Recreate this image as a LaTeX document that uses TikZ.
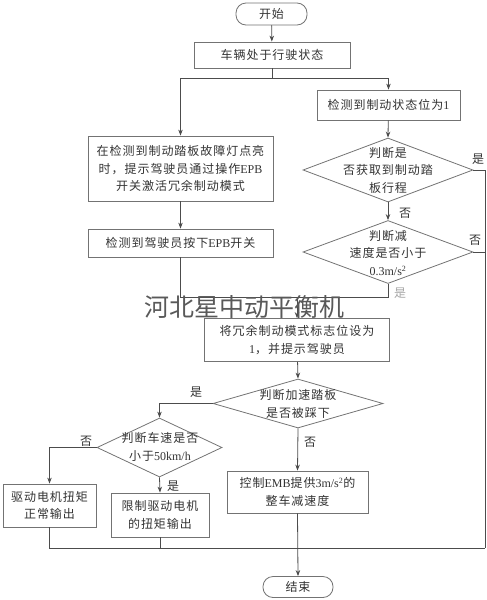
\documentclass[tikz,border=0pt]{standalone}
\usepackage{fontspec}
\usetikzlibrary{shapes.geometric,arrows.meta}
\newfontfamily\cjk{Noto Sans CJK SC}[LetterSpace=8]
\newfontfamily\wmfont{Noto Sans CJK SC}
\newfontfamily\latf{Liberation Serif}
\newcommand\la[1]{{\latf #1}}
\begin{document}
\begin{tikzpicture}[x=1pt,y=-1pt,
  font=\cjk\fontsize{12}{17.5}\selectfont,
  box/.style={draw=black!55, line width=0.8pt, fill=white, align=center, inner sep=0pt, text=black!80},
  term/.style={box, rounded corners=10pt},
  dia/.style={diamond, draw=black!55, line width=0.8pt, inner sep=0pt},
  dtxt/.style={align=center, inner sep=0pt, text=black!80},
  ln/.style={draw=black!70, line width=0.8pt},
  arr/.style={ln, -{Stealth[length=6pt,width=4.5pt]}},
  lab/.style={inner sep=0pt, text=black!80}]
\useasboundingbox (0,0) rectangle (487,600);
% terminals and boxes
\node[term, minimum width=71pt, minimum height=22pt] (start) at (271.5,14) {开始};
\node[box, minimum width=156pt, minimum height=26pt] (b1) at (272,55) {车辆处于行驶状态};
\node[box, minimum width=143pt, minimum height=30pt] (r1) at (388.5,105) {检测到制动状态位为\la{1}};
\node[box, minimum width=185pt, minimum height=65pt] (b2) at (180.5,168.5) {在检测到制动踏板故障灯点亮\\时，提示驾驶员通过操作\la{EPB}\\开关激活冗余制动模式};
\node[box, minimum width=185pt, minimum height=28pt] (b3) at (180.5,243) {检测到驾驶员按下\la{EPB}开关};
\node[dia, minimum width=170pt, minimum height=64pt] (d1) at (388,170) {};
\node[dtxt] (d1t) at (388,170) {判断是\\否获取到制动踏\\板行程};
\node[dia, minimum width=170pt, minimum height=63pt] (d2) at (388,252) {};
\node[dtxt] (d2t) at (388,253) {判断减\\速度是否小于\\\la{0.3m/s\textsuperscript{2}}};
\node[box, minimum width=185pt, minimum height=43pt] (b4) at (297,340) {将冗余制动模式标志位设为\\\la{1}，并提示驾驶员};
\node[dia, minimum width=170pt, minimum height=49pt] (d3) at (298,403.5) {};
\node[dtxt] (d3t) at (298,404) {判断加速踏板\\是否被踩下};
\node[dia, minimum width=125pt, minimum height=59pt] (d4) at (159.5,447.5) {};
\node[dtxt] (d4t) at (160,447) {判断车速是否\\小于\la{50km/h}};
\node[box, minimum width=93pt, minimum height=43pt] (b5) at (49.5,505.5) {驱动电机扭矩\\正常输出};
\node[box, minimum width=98pt, minimum height=44pt] (b6) at (160,515) {限制驱动电机\\的扭矩输出};
\node[box, minimum width=141pt, minimum height=42pt] (b7) at (297.5,492) {控制\la{EMB}提供\la{3m/s\textsuperscript{2}}的\\整车减速度};
\node[term, minimum width=70pt, minimum height=21pt] (end) at (298,587) {结束};
% junction coordinates
\coordinate (j1) at (297,297);
\coordinate (rr) at (485,548);
% connectors
\draw[arr] (start) -- (b1);
\draw[arr] (b1.south) -- ++(0,10) -| (b2.north);
\draw[arr] (b1.south) -- ++(0,10) -| (r1.north);
\draw[arr] (b2) -- (b3);
\draw[arr] (r1) -- (d1.north);
\draw[arr] (d1.south) -- (d2.north);
\draw[ln] (d1.east) -| (rr);
\draw[ln] (d2.east) -- (d2.east -| rr);
\draw[ln] (b3.south) |- (j1);
\draw[ln] (d2.south) |- (j1);
\draw[arr] (j1) -- (b4.north);
\draw[arr] (b4) -- (d3.north);
\draw[arr] (d3.west) -| (d4.north);
\draw[arr] (d3.south) -- (b7.north);
\draw[arr] (d4.west) -| (b5.north);
\draw[arr] (d4.south) -- (b6.north);
\draw[ln] (b5.south) |- (rr);
\draw[ln] (b6.south) -- (b6.south |- rr);
\draw[arr] (b7.south) -- (end.north);
% branch labels
\node[lab] (l1) at (478,159) {是};
\node[lab] (l2) at (405,213) {否};
\node[lab] (l3) at (475,240) {否};
\node[lab, text=black!35] (l4) at (400,293) {是};
\node[lab] (l5) at (196,392) {是};
\node[lab] (l6) at (310,442) {否};
\node[lab] (l7) at (86,441) {否};
\node[lab] (l8) at (173,486) {是};
% watermark
\node[inner sep=0pt, text=black!65, font=\wmfont\fontsize{25}{25}\selectfont] (wm) at (244,307) {河北星中动平衡机};
\end{tikzpicture}
\end{document}
